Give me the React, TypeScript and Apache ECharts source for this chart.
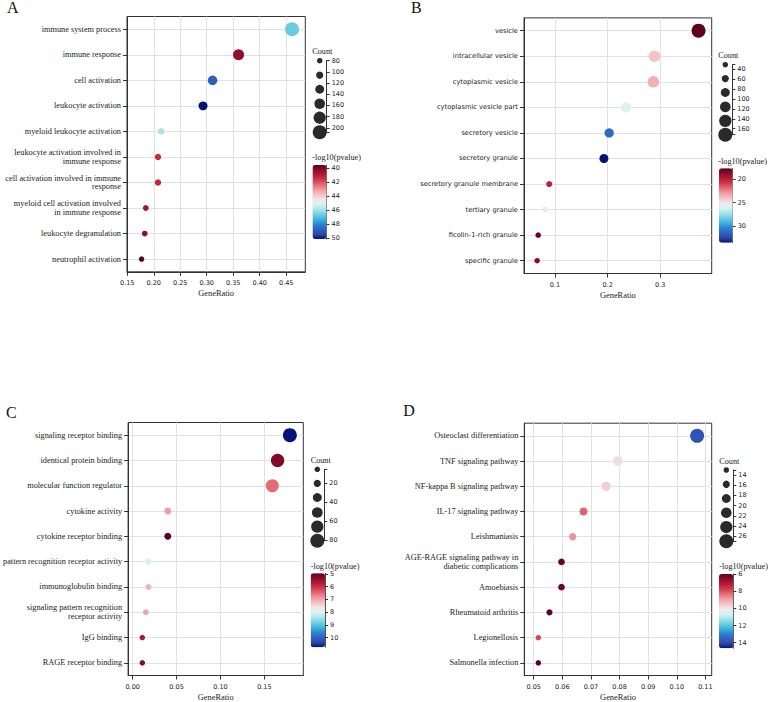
import React, { useEffect, useRef } from "react";
import * as echarts from "echarts";

// ---------- Panel A ----------
const termsA = ["immune system process", "immune response", "cell activation", "leukocyte activation", "myeloid leukocyte activation", "leukocyte activation involved in\nimmune response", "cell activation involved in immune\nresponse", "myeloid cell activation involved\nin immune response", "leukocyte degranulation", "neutrophil activation"];
const ratioA = [0.461, 0.360, 0.311, 0.293, 0.214, 0.208, 0.208, 0.185, 0.183, 0.177];
const countA = [208, 163, 141, 132, 97, 94, 94, 84, 83, 80];
const pvalA = [46.7, 40.4, 48.8, 50.1, 45.9, 41.4, 41.3, 40.65, 40.4, 39.6];
const xTicksA = [0.15, 0.2, 0.25, 0.3, 0.35, 0.4, 0.45];
const xRangeA = [0.1495, 0.486];
const countTicksA = [80, 100, 120, 140, 160, 180, 200];
const countLegendA = [80, 106, 131, 157, 182, 208];
const colorTicksA = [40, 42, 44, 46, 48, 50];
const colorRangeA = [39.6, 50.1];

// ---------- Panel B ----------
const termsB = ["vesicle", "intracellular vesicle", "cytoplasmic vesicle", "cytoplasmic vesicle part", "secretory vesicle", "secretory granule", "secretory granule membrane", "tertiary granule", "ficolin-1-rich granule", "specific granule"];
const ratioB = [0.373, 0.289, 0.287, 0.235, 0.203, 0.193, 0.089, 0.081, 0.068, 0.066];
const countB = [172, 133, 132, 108, 94, 89, 41, 37, 32, 31];
const pvalB = [17.6, 24.0, 23.5, 26.1, 31.2, 33.6, 20.0, 25.6, 17.9, 18.6];
const xTicksB = [0.1, 0.2, 0.3];
const xRangeB = [0.041, 0.398];
const countTicksB = [40, 60, 80, 100, 120, 140, 160];
const countLegendB = [31, 59, 87, 116, 144, 172];
const colorTicksB = [20, 25, 30];
const colorRangeB = [17.6, 33.6];

// ---------- Panel C ----------
const termsC = ["signaling receptor binding", "identical protein binding", "molecular function regulator", "cytokine activity", "cytokine receptor binding", "pattern recognition receptor activity", "immunoglobulin binding", "signaling pattern recognition\nreceptor activity", "IgG binding", "RAGE receptor binding"];
const ratioC = [0.179, 0.165, 0.159, 0.040, 0.040, 0.018, 0.018, 0.015, 0.011, 0.011];
const countC = [81, 75, 72, 18, 18, 8, 8, 7, 5, 5];
const pvalC = [10.75, 5.25, 6.5, 6.9, 4.95, 8.1, 7.1, 6.95, 5.65, 5.3];
const xTicksC = [0, 0.05, 0.1, 0.15];
const xRangeC = [-0.0052, 0.1943];
const countTicksC = [20, 40, 60, 80];
const countLegendC = [5, 20, 35, 51, 66, 81];
const colorTicksC = [5, 6, 7, 8, 9, 10];
const colorRangeC = [4.95, 10.75];

// ---------- Panel D ----------
const termsD = ["Osteoclast differentiation", "TNF signaling pathway", "NF-kappa B signaling pathway", "IL-17 signaling pathway", "Leishmaniasis", "AGE-RAGE signaling pathway in\ndiabetic complications", "Amoebiasis", "Rheumatoid arthritis", "Legionellosis", "Salmonella infection"];
const ratioD = [0.1071, 0.0794, 0.0753, 0.0674, 0.0636, 0.0597, 0.0597, 0.0555, 0.0516, 0.0516];
const countD = [27, 20, 19, 17, 16, 15, 15, 14, 13, 13];
const pvalD = [13.8, 9.9, 9.6, 8.2, 8.8, 6.2, 6.2, 6.0, 7.9, 6.05];
const xTicksD = [0.05, 0.06, 0.07, 0.08, 0.09, 0.1, 0.11];
const xRangeD = [0.0467, 0.1122];
const countTicksD = [14, 16, 18, 20, 22, 24, 26];
const countLegendD = [13, 15.8, 18.6, 21.4, 24.2, 27];
const colorTicksD = [6, 8, 10, 12, 14];
const colorRangeD = [6.0, 14.65];

const PALETTE = ["#5e001c", "#8e0b2b", "#b41a35", "#d03a4c", "#e56a76", "#f29aa3", "#f6c2c6", "#f0e8e8", "#d8f3f3", "#a8e5ea", "#6fd0de", "#3fb3dc", "#2a86d4", "#2f62c4", "#3048a4", "#03137a"];

const SERIF = "'Liberation Serif', 'Times New Roman', serif";
const SANS = "'DejaVu Sans', sans-serif";
const INK = "#222";
const AXIS = "#333";

const panels = [
  {
    letter: "A", terms: termsA, ratio: ratioA, count: countA, pval: pvalA, xTicks: xTicksA, xRange: xRangeA, xDec: 2,
    countTicks: countTicksA, countLegend: countLegendA, colorTicks: colorTicksA, colorRange: colorRangeA,
    labelFont: SERIF, labelSize: 8.3,
    main: { left: 127, top: 16.5, width: 178.3, height: 255.3 }, letterPos: [7, 7.6],
    cnt: { axisX: 326.7, top: 60.7, bottom: 132.3, tx: 312.3, ty: 51.7 },
    bar: { x: 312.5, y: 165, w: 14, h: 74, tx: 312.3, ty: 157.8 },
  },
  {
    letter: "B", terms: termsB, ratio: ratioB, count: countB, pval: pvalB, xTicks: xTicksB, xRange: xRangeB, xDec: 1,
    countTicks: countTicksB, countLegend: countLegendB, colorTicks: colorTicksB, colorRange: colorRangeB,
    labelFont: SANS, labelSize: 6.7,
    main: { left: 524, top: 17.9, width: 187.7, height: 255.6 }, letterPos: [411, 7.8],
    cnt: { axisX: 732.3, top: 64.7, bottom: 134.7, tx: 718.3, ty: 55.7 },
    bar: { x: 719, y: 168.3, w: 13.7, h: 74.4, tx: 718.3, ty: 161.8 },
  },
  {
    letter: "C", terms: termsC, ratio: ratioC, count: countC, pval: pvalC, xTicks: xTicksC, xRange: xRangeC, xDec: 2,
    countTicks: countTicksC, countLegend: countLegendC, colorTicks: colorTicksC, colorRange: colorRangeC,
    labelFont: SERIF, labelSize: 8.3,
    main: { left: 127.7, top: 422.5, width: 175.6, height: 255.6 }, letterPos: [6, 412.5],
    cnt: { axisX: 324.3, top: 469.3, bottom: 540.7, tx: 310.7, ty: 460.7 },
    bar: { x: 310.7, y: 573.3, w: 14.3, h: 74, tx: 310.7, ty: 566.2 },
  },
  {
    letter: "D", terms: termsD, ratio: ratioD, count: countD, pval: pvalD, xTicks: xTicksD, xRange: xRangeD, xDec: 2,
    countTicks: countTicksD, countLegend: countLegendD, colorTicks: colorTicksD, colorRange: colorRangeD,
    labelFont: SERIF, labelSize: 8.3,
    main: { left: 524.3, top: 423.2, width: 187.4, height: 255.6 }, letterPos: [403.3, 410.8],
    cnt: { axisX: 733.3, top: 470, bottom: 541.3, tx: 719.3, ty: 461.7 },
    bar: { x: 719, y: 574, w: 14.3, h: 74.3, tx: 719.3, ty: 566.5 },
  },
];

const D_MIN = 5.5;
const D_MAX = 14;

function buildOption() {
  const grid: any[] = [];
  const xAxis: any[] = [];
  const yAxis: any[] = [];
  const series: any[] = [];
  const visualMap: any[] = [];
  const graphic: any[] = [];

  panels.forEach((p) => {
    const cMin = p.countLegend[0];
    const cMax = p.countLegend[p.countLegend.length - 1];
    const size = (c: number) => D_MIN + ((c - cMin) / (cMax - cMin)) * (D_MAX - D_MIN);
    const g0 = grid.length;

    // main plot grid
    grid.push({ left: p.main.left, top: p.main.top, width: p.main.width, height: p.main.height, show: true, borderColor: AXIS, borderWidth: 1, backgroundColor: "transparent", containLabel: false });
    xAxis.push({
      gridIndex: g0, type: "value", min: p.xRange[0], max: p.xRange[1],
      name: "GeneRatio", nameLocation: "middle", nameGap: 17.5,
      nameTextStyle: { fontFamily: SERIF, fontSize: 8.4, color: INK },
      axisLine: { show: true, onZero: false, lineStyle: { color: AXIS, width: 1 } },
      axisTick: { show: true, length: 4, inside: false, customValues: p.xTicks, lineStyle: { color: AXIS } },
      axisLabel: { customValues: p.xTicks, fontFamily: SANS, fontSize: 6.5, color: INK, margin: 7.5, formatter: (v: number) => v.toFixed(p.xDec) },
      splitLine: { show: true, lineStyle: { color: "#e2e2e2", width: 1 } },
    });
    const idx = p.terms.map((_, k) => k);
    yAxis.push({
      gridIndex: g0, type: "value", inverse: true, min: -0.5, max: 9.5,
      axisLine: { show: true, onZero: false, lineStyle: { color: AXIS, width: 1 } },
      axisTick: { show: true, length: 4, inside: false, customValues: idx, lineStyle: { color: AXIS } },
      axisLabel: { customValues: idx, fontFamily: p.labelFont, fontSize: p.labelSize, lineHeight: 8.6, color: INK, margin: 6, align: "right", formatter: (v: number) => p.terms[Math.round(v)] ?? "" },
      splitLine: { show: true, lineStyle: { color: "#e2e2e2", width: 1 } },
    });
    const mainSeriesIndex = series.length;
    series.push({
      type: "scatter", xAxisIndex: g0, yAxisIndex: g0,
      data: p.ratio.map((r, k) => [r, k, p.pval[k], p.count[k]]),
      symbolSize: (v: number[]) => size(v[3]),
      itemStyle: { opacity: 1 },
      z: 3,
    });

    // count legend grid
    const g1 = grid.length;
    grid.push({ left: p.cnt.axisX - 14, top: p.cnt.top, width: 14, height: p.cnt.bottom - p.cnt.top, show: false });
    xAxis.push({ gridIndex: g1, type: "value", min: 0, max: 1, show: false });
    yAxis.push({
      gridIndex: g1, type: "value", position: "right", inverse: true, min: cMin, max: cMax,
      axisLine: { show: true, onZero: false, lineStyle: { color: AXIS, width: 1 } },
      axisTick: { show: true, length: 3, inside: false, customValues: [cMin, ...p.countTicks, cMax], lineStyle: { color: AXIS } },
      axisLabel: { customValues: p.countTicks, fontFamily: SANS, fontSize: 6.5, color: INK, margin: 5 },
      splitLine: { show: false },
    });
    series.push({
      type: "scatter", xAxisIndex: g1, yAxisIndex: g1,
      data: p.countLegend.map((c) => [0.5, c]),
      symbolSize: (v: number[]) => size(v[1]),
      itemStyle: { color: "#2a2a2a", opacity: 1 },
    });

    // colorbar axis grid
    const g2 = grid.length;
    grid.push({ left: p.bar.x, top: p.bar.y, width: p.bar.w, height: p.bar.h, show: false });
    xAxis.push({ gridIndex: g2, type: "value", min: 0, max: 1, show: false });
    yAxis.push({
      gridIndex: g2, type: "value", position: "right", inverse: true, min: p.colorRange[0], max: p.colorRange[1],
      axisLine: { show: true, onZero: false, lineStyle: { color: "#555", width: 1 } },
      axisTick: { show: true, length: 3, inside: false, customValues: p.colorTicks, lineStyle: { color: AXIS } },
      axisLabel: { customValues: p.colorTicks, fontFamily: SANS, fontSize: 6.5, color: INK, margin: 5 },
      splitLine: { show: false },
    });

    visualMap.push({
      type: "continuous", seriesIndex: mainSeriesIndex, dimension: 2,
      min: p.colorRange[0], max: p.colorRange[1], inverse: true, calculable: false,
      orient: "vertical", left: p.bar.x, top: p.bar.y, itemWidth: p.bar.w, itemHeight: p.bar.h,
      padding: 0, hoverLink: false, inRange: { color: PALETTE },
    });

    graphic.push({ type: "text", x: p.letterPos[0], y: p.letterPos[1], style: { text: p.letter, fontFamily: SERIF, fontSize: 16, fill: "#111", verticalAlign: "middle" } });
    graphic.push({ type: "text", x: p.cnt.tx, y: p.cnt.ty, style: { text: "Count", fontFamily: SERIF, fontSize: 8.2, fill: INK, verticalAlign: "middle" } });
    graphic.push({ type: "text", x: p.bar.tx, y: p.bar.ty, style: { text: "-log10(pvalue)", fontFamily: SERIF, fontSize: 8.2, fill: INK, verticalAlign: "middle" } });
  });

  return { animation: false, backgroundColor: "#ffffff", grid, xAxis, yAxis, series, visualMap, graphic };
}

export default function App() {
  const ref = useRef<HTMLDivElement>(null);
  useEffect(() => {
    if (!ref.current) return;
    const chart = echarts.init(ref.current, undefined, { renderer: "svg" });
    chart.setOption(buildOption() as any);
    return () => chart.dispose();
  }, []);
  return <div ref={ref} style={{ position: "fixed", left: 0, top: 0, width: 771, height: 702 }} />;
}
